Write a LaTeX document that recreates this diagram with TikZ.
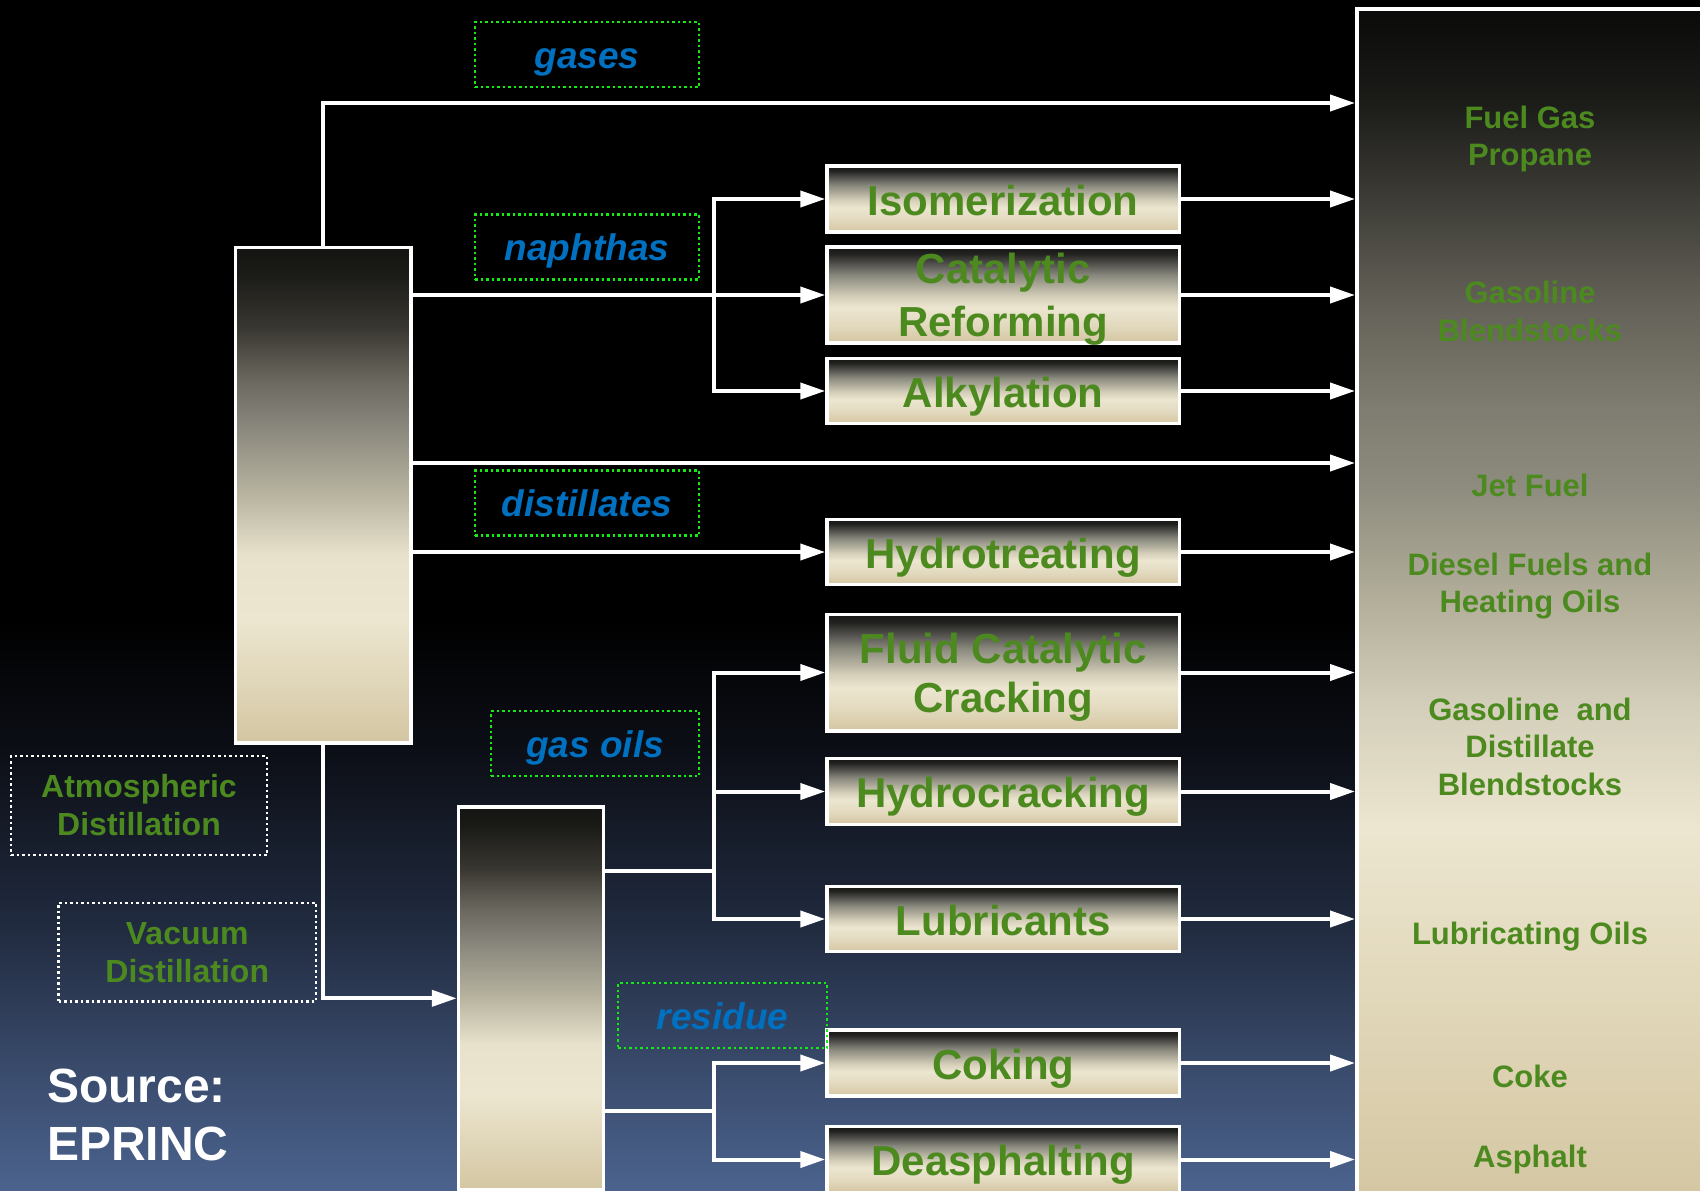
\documentclass[tikz,border=0pt]{standalone}
\usepackage{fontspec}
\setmainfont{Liberation Sans}
\usetikzlibrary{arrows.meta}
\newcommand\myfs[2]{\fontsize{#1}{#2}\selectfont}
\definecolor{txtgreen}{RGB}{76,138,32}
\definecolor{lblblue}{RGB}{0,112,192}
\definecolor{dotgreen}{RGB}{20,235,20}
\definecolor{cream}{RGB}{236,230,208}
\definecolor{tanc}{RGB}{212,198,162}
% background
\definecolor{bgA}{RGB}{75,99,142}
\definecolor{bgB}{RGB}{60,78,112}
\definecolor{bgC}{RGB}{32,42,62}
\definecolor{bgD}{RGB}{13,16,24}
% process boxes
\definecolor{pcA}{HTML}{161616}
\definecolor{pcB}{HTML}{222220}
\definecolor{pcC}{HTML}{555450}
\definecolor{pcD}{HTML}{88877C}
\definecolor{pcE}{HTML}{B0AD9C}
\definecolor{pcF}{HTML}{D6D0BA}
\definecolor{pcG}{HTML}{E3DAC0}
% columns
\definecolor{csA}{HTML}{141412}
\definecolor{csB}{HTML}{1A1A17}
\definecolor{csC}{HTML}{383630}
\definecolor{csD}{HTML}{6B695F}
\definecolor{csE}{HTML}{86847A}
\definecolor{csF}{HTML}{B8B4A0}
\definecolor{csG}{HTML}{E8E2CC}
% product column
\definecolor{prA}{HTML}{0A0A0A}
\definecolor{prB}{HTML}{1C1C19}
\definecolor{prC}{HTML}{3E3D37}
\definecolor{prD}{HTML}{646158}
\definecolor{prE}{HTML}{7E7C70}
\definecolor{prF}{HTML}{8E8C7E}
\definecolor{prG}{HTML}{B4B09C}
\definecolor{prH}{HTML}{D4CFBA}
\definecolor{prI}{HTML}{E0D6B8}
\pgfdeclareverticalshading{bgshade}{100bp}{color(0bp)=(bgA); color(25bp)=(bgA); color(29.5bp)=(bgB); color(36.3bp)=(bgC); color(43.1bp)=(bgD); color(49bp)=(black); color(100bp)=(black)}
\pgfdeclareverticalshading{procshade}{100bp}{color(0bp)=(tanc); color(25bp)=(tanc); color(35bp)=(pcG); color(43.5bp)=(cream); color(49bp)=(pcF); color(54.5bp)=(pcE); color(60.5bp)=(pcD); color(66bp)=(pcC); color(71.5bp)=(pcB); color(75bp)=(pcA); color(100bp)=(pcA)}
\pgfdeclareverticalshading{colshade}{100bp}{color(0bp)=(tanc); color(25bp)=(tanc); color(37.5bp)=(cream); color(44bp)=(csG); color(50bp)=(csF); color(57.5bp)=(csE); color(61.5bp)=(csD); color(67bp)=(csC); color(72.5bp)=(csB); color(75bp)=(csA); color(100bp)=(csA)}
\pgfdeclareverticalshading{prodshade}{100bp}{color(0bp)=(tanc); color(25bp)=(tanc); color(33bp)=(prI); color(40.7bp)=(cream); color(45.8bp)=(prH); color(50bp)=(prG); color(55bp)=(prF); color(58.4bp)=(prE); color(62.6bp)=(prD); color(66.9bp)=(prC); color(71bp)=(prB); color(75bp)=(prA); color(100bp)=(prA)}
\tikzset{
  link/.style={draw=white, line width=4pt},
  flow/.style={link, -{Triangle[length=25pt,width=16pt]}},
  colbox/.style={draw=white, line width=3.5pt, shade, shading=colshade, inner sep=0pt},
  prodbox/.style={draw=white, line width=3.5pt, shade, shading=prodshade, inner sep=0pt},
  procbase/.style={draw=white, line width=3.5pt, shade, shading=procshade, minimum width=352.5pt,
    inner sep=0pt, text=txtgreen, align=center},
  proc1/.style={procbase, font=\myfs{42}{50}\bfseries, text height=40pt, text depth=8pt},
  proc2/.style={procbase},
  lbl/.style={draw=dotgreen, line width=2.5pt, dash pattern=on 2.5pt off 3pt, minimum width=224pt,
    minimum height=65pt, inner sep=0pt, text=lblblue, font=\myfs{37}{44}\bfseries\itshape,
    text height=34pt, text depth=7pt},
  wlbl/.style={draw=white, line width=2.5pt, dash pattern=on 2.5pt off 3pt, inner sep=0pt,
    text=txtgreen, font=\myfs{32}{38}\bfseries, align=center},
  prodtxt/.style={anchor=north, inner sep=0pt, text=txtgreen, font=\myfs{31}{37.3}\bfseries, align=center},
  srctxt/.style={anchor=north west, inner sep=0pt, text=white, font=\myfs{48}{57.5}\bfseries, align=left}
}
\begin{document}
\begin{tikzpicture}[x=1pt, y=-1pt]
\path[use as bounding box] (0,0) rectangle (1700,1191);
\clip (0,0) rectangle (1700,1191);
\shade[shading=bgshade] (0,0) rectangle (1700,1191);

% columns
\node[colbox, minimum width=175.5pt, minimum height=495.5pt] (atm) at (323.25,495.25) {};
\node[colbox, minimum width=145pt, minimum height=383pt] (vac) at (531,998.3) {};
\node[prodbox, anchor=north west, minimum width=365pt, minimum height=1195pt] (prod) at (1355,7) {};

% process units
\node[proc1, minimum height=66pt] (iso) at (1003.25,199) {Isomerization};
\node[proc2, minimum height=96pt, font=\myfs{42}{53}\bfseries] (ref) at (1003.25,295) {Catalytic\\\raisebox{0pt}[\height][0pt]{Reforming}};
\node[proc1, minimum height=65pt] (alk) at (1003.25,391) {Alkylation};
\node[proc1, minimum height=65pt] (ht) at (1003.25,552) {Hydrotreating};
\node[proc2, minimum height=116.5pt, font=\myfs{42}{49}\bfseries] (fcc) at (1003.25,672.5) {Fluid Catalytic\\\raisebox{0pt}[\height][0pt]{Cracking}};
\node[proc1, minimum height=66pt] (hc) at (1003.25,791.5) {Hydrocracking};
\node[proc1, minimum height=65pt] (lub) at (1003.25,919) {Lubricants};
\node[proc1, minimum height=66pt] (cok) at (1003.25,1063) {Coking};
\node[proc1, minimum height=66pt] (dea) at (1003.25,1159.5) {Deasphalting};

% helper coordinates
\coordinate (gy) at (0,103);
\coordinate (jy) at (0,463);
\coordinate (nb) at (714,295);
\coordinate (gb) at (714,870.6);
\coordinate (rb) at (714,1110.7);

% gases
\draw[flow] (atm.north) |- (gy -| prod.west);
% naphthas
\draw[flow] (atm.east |- ref.west) -- (ref.west);
\draw[flow] (nb) |- (iso.west);
\draw[flow] (nb) |- (alk.west);
% jet fuel
\draw[flow] (atm.east |- jy) -- (prod.west |- jy);
% distillates
\draw[flow] (atm.east |- ht.west) -- (ht.west);
% to vacuum
\draw[flow] (atm.south) |- (vac.west);
% gas oils
\draw[link] (vac.east |- gb) -- (gb);
\draw[flow] (gb) |- (fcc.west);
\draw[flow] (gb) |- (hc.west);
\draw[flow] (gb) |- (lub.west);
% residue
\draw[link] (vac.east |- rb) -- (rb);
\draw[flow] (rb) |- (cok.west);
\draw[flow] (rb) |- (dea.west);
% outputs
\foreach \n in {iso,ref,alk,ht,fcc,hc,lub,cok,dea}
  \draw[flow] (\n.east) -- (\n.east -| prod.west);

% stream labels
\node[lbl] (lgas) at (587,54.5) {gases};
\node[lbl] (lnap) at (587,247) {naphthas};
\node[lbl] (ldis) at (587,503) {distillates};
\node[lbl, minimum width=208pt] (lgo) at (595,743.5) {gas oils};
\node[lbl, minimum width=209pt] (lres) at (722.5,1015.5) {residue};

% unit labels
\node[wlbl, minimum width=256pt, minimum height=99pt] (tatm) at (139,805.5) {Atmospheric\\Distillation};
\node[wlbl, minimum width=257.5pt, minimum height=98.5pt] (tvac) at (187.25,952.2) {Vacuum\\Distillation};

% products
\node[prodtxt] (p1) at (1530,105.8) {Fuel Gas\\Propane};
\node[prodtxt] (p2) at (1530,281.3) {Gasoline\\Blendstocks};
\node[prodtxt] (p3) at (1530,473.4) {Jet Fuel};
\node[prodtxt] (p4) at (1530,552.8) {Diesel Fuels and\\Heating Oils};
\node[prodtxt] (p5) at (1530,697.8) {Gasoline\ \ and\\Distillate\\Blendstocks};
\node[prodtxt] (p6) at (1530,921.6) {Lubricating Oils};
\node[prodtxt] (p7) at (1530,1064.8) {Coke};
\node[prodtxt] (p8) at (1530,1144.8) {Asphalt};

% source
\node[srctxt] (src) at (47,1069) {Source:\\EPRINC};
\end{tikzpicture}
\end{document}
